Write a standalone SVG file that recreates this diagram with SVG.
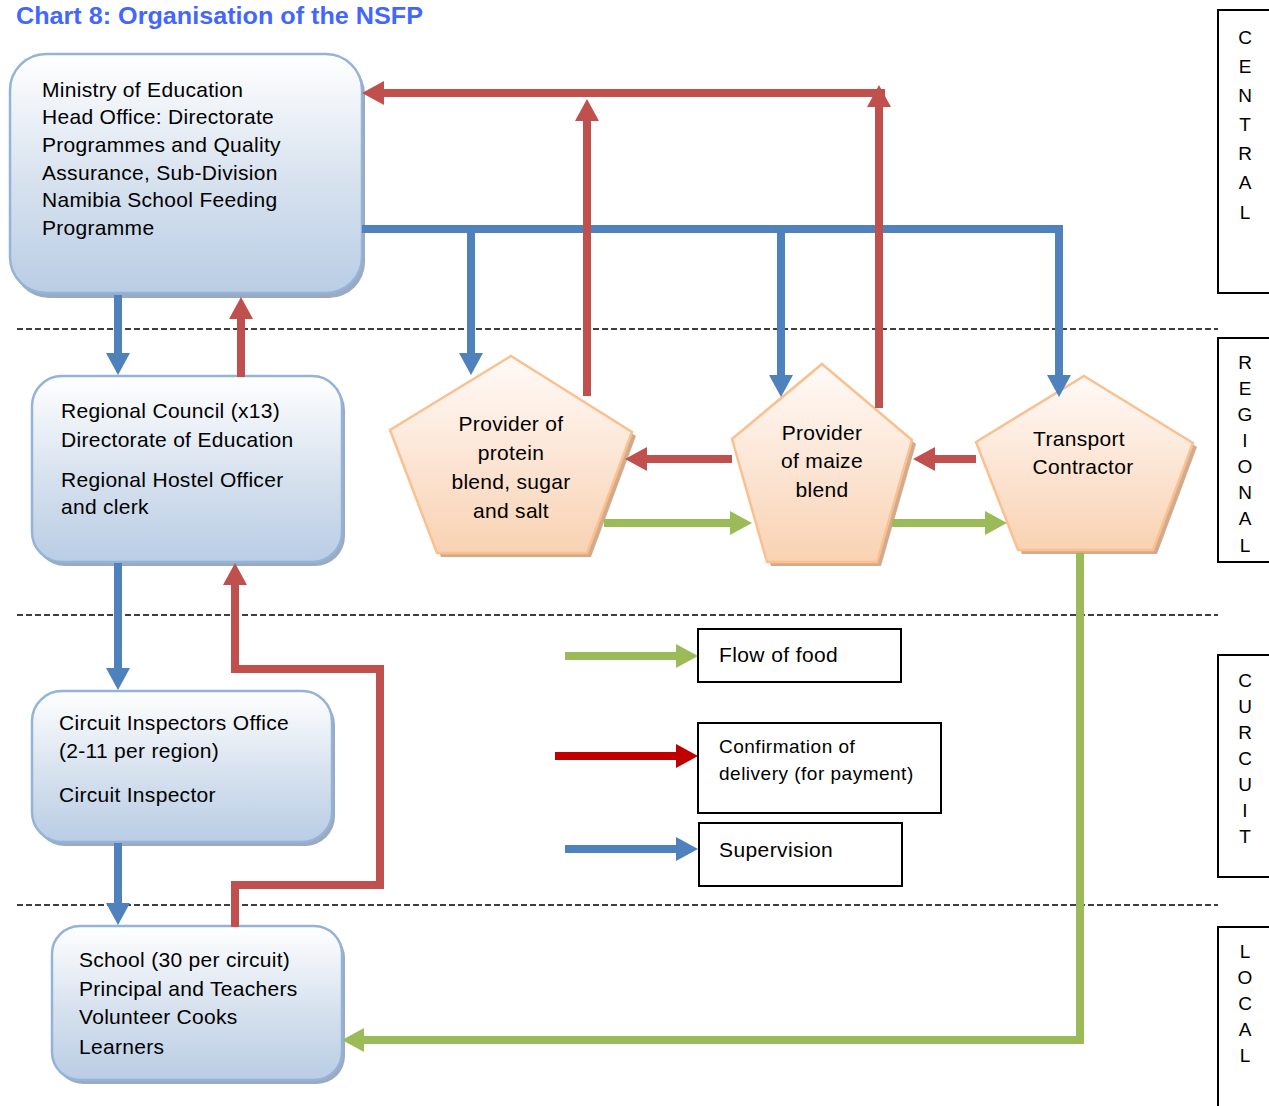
<svg xmlns="http://www.w3.org/2000/svg" width="1269" height="1106" viewBox="0 0 1269 1106">
<defs>
<linearGradient id="gBox" x1="0" y1="0" x2="0" y2="1">
<stop offset="0" stop-color="#FFFFFF"/>
<stop offset="0.55" stop-color="#D6E1EE"/>
<stop offset="1" stop-color="#B9CDE5"/>
</linearGradient>
<linearGradient id="gPent" x1="0" y1="0" x2="0" y2="1">
<stop offset="0" stop-color="#FFFAF7"/>
<stop offset="0.5" stop-color="#FCE6D6"/>
<stop offset="1" stop-color="#F9D2B2"/>
</linearGradient>
<marker id="mB" markerUnits="userSpaceOnUse" markerWidth="24" markerHeight="26" refX="0" refY="12" orient="auto" overflow="visible"><path d="M0,0 L22,12 L0,24 z" fill="#4F81BD"/></marker>
<marker id="mR" markerUnits="userSpaceOnUse" markerWidth="24" markerHeight="26" refX="0" refY="12" orient="auto" overflow="visible"><path d="M0,0 L22,12 L0,24 z" fill="#C0504D"/></marker>
<marker id="mG" markerUnits="userSpaceOnUse" markerWidth="24" markerHeight="26" refX="0" refY="12" orient="auto" overflow="visible"><path d="M0,0 L22,12 L0,24 z" fill="#9BBB59"/></marker>
<marker id="mDR" markerUnits="userSpaceOnUse" markerWidth="24" markerHeight="26" refX="0" refY="12" orient="auto" overflow="visible"><path d="M0,0 L22,12 L0,24 z" fill="#C00000"/></marker>
</defs>
<style>
text{font-family:"Liberation Sans",Arial,sans-serif;fill:#000;}
.t{font-size:21px;letter-spacing:0.3px;}
.pt{font-size:21px;letter-spacing:0.3px;text-anchor:middle;}
.lg{font-size:21px;letter-spacing:0.4px;}
.lg2{font-size:19px;letter-spacing:0.5px;}
.side{font-size:19px;text-anchor:middle;}
.box{fill:url(#gBox);stroke:#95B3D7;stroke-width:2.5;}
.bsh{fill:#9AAAC2;}
.pent{fill:url(#gPent);stroke:#FAC090;stroke-width:2.5;}
.psh{fill:#D4AA8A;}
.dash{stroke:#000;stroke-width:1.5;stroke-dasharray:6 3;fill:none;}
.frame{fill:none;stroke:#000;stroke-width:2;}
.cb{fill:none;stroke:#4F81BD;stroke-width:8;marker-end:url(#mB);}
.cr{fill:none;stroke:#C0504D;stroke-width:8;marker-end:url(#mR);}
.cg{fill:none;stroke:#9BBB59;stroke-width:8;marker-end:url(#mG);}
.cdr{fill:none;stroke:#C00000;stroke-width:8;marker-end:url(#mDR);}
.lbox{fill:#fff;stroke:#000;stroke-width:2;}
</style>

<text x="16" y="24" style="font-size:24px;font-weight:bold;fill:#4366FF" textLength="407" lengthAdjust="spacingAndGlyphs">Chart 8: Organisation of the NSFP</text>

<g id="dividers">
<line class="dash" x1="17" y1="329" x2="1218" y2="329"/>
<line class="dash" x1="17" y1="615" x2="1218" y2="615"/>
<line class="dash" x1="17" y1="905" x2="1218" y2="905"/>
</g>

<g id="level-central">
<rect class="frame" x="1218" y="10" width="60" height="283"/>
<text class="side" x="1245" y="44">C</text>
<text class="side" x="1245" y="73">E</text>
<text class="side" x="1245" y="102">N</text>
<text class="side" x="1245" y="131">T</text>
<text class="side" x="1245" y="160">R</text>
<text class="side" x="1245" y="189">A</text>
<text class="side" x="1245" y="219">L</text>
</g>
<g id="level-regional">
<rect class="frame" x="1218" y="338" width="60" height="224"/>
<text class="side" x="1245" y="369">R</text>
<text class="side" x="1245" y="395">E</text>
<text class="side" x="1245" y="421">G</text>
<text class="side" x="1245" y="447">I</text>
<text class="side" x="1245" y="473">O</text>
<text class="side" x="1245" y="499">N</text>
<text class="side" x="1245" y="525">A</text>
<text class="side" x="1245" y="552">L</text>
</g>
<g id="level-circuit">
<rect class="frame" x="1218" y="655" width="60" height="222"/>
<text class="side" x="1245" y="687">C</text>
<text class="side" x="1245" y="713">U</text>
<text class="side" x="1245" y="739">R</text>
<text class="side" x="1245" y="765">C</text>
<text class="side" x="1245" y="791">U</text>
<text class="side" x="1245" y="817">I</text>
<text class="side" x="1245" y="843">T</text>
</g>
<g id="level-local">
<rect class="frame" x="1218" y="927" width="60" height="200"/>
<text class="side" x="1245" y="958">L</text>
<text class="side" x="1245" y="984">O</text>
<text class="side" x="1245" y="1010">C</text>
<text class="side" x="1245" y="1036">A</text>
<text class="side" x="1245" y="1062">L</text>
</g>

<g id="ministry">
<rect class="bsh" x="13" y="58" width="352" height="240" rx="36"/>
<rect class="box" x="10" y="54" width="352" height="239" rx="36"/>
<text class="t" x="42" y="97">Ministry of Education</text>
<text class="t" x="42" y="124">Head Office: Directorate</text>
<text class="t" x="42" y="152">Programmes and Quality</text>
<text class="t" x="42" y="180">Assurance, Sub-Division</text>
<text class="t" x="42" y="207">Namibia School Feeding</text>
<text class="t" x="42" y="235">Programme</text>
</g>

<g id="regional-council">
<rect class="bsh" x="35" y="380" width="310" height="186" rx="30"/>
<rect class="box" x="32" y="376" width="310" height="186" rx="30"/>
<text class="t" x="61" y="418">Regional Council (x13)</text>
<text class="t" x="61" y="447">Directorate of Education</text>
<text class="t" x="61" y="487">Regional Hostel Officer</text>
<text class="t" x="61" y="514">and clerk</text>
</g>

<g id="circuit-office">
<rect class="bsh" x="35" y="695" width="300" height="151" rx="30"/>
<rect class="box" x="32" y="691" width="300" height="151" rx="30"/>
<text class="t" x="59" y="730">Circuit Inspectors Office</text>
<text class="t" x="59" y="758">(2-11 per region)</text>
<text class="t" x="59" y="802">Circuit Inspector</text>
</g>

<g id="school">
<rect class="bsh" x="55" y="930" width="290" height="154" rx="28"/>
<rect class="box" x="52" y="926" width="290" height="154" rx="28"/>
<text class="t" x="79" y="967">School (30 per circuit)</text>
<text class="t" x="79" y="996">Principal and Teachers</text>
<text class="t" x="79" y="1024">Volunteer Cooks</text>
<text class="t" x="79" y="1054">Learners</text>
</g>

<g id="provider-protein">
<polygon class="psh" points="515,360 636,436 591,557 441,557 394,434"/>
<polygon class="pent" points="511,356 632,432 587,553 437,553 390,430"/>
<text class="pt" x="511" y="431">Provider of</text>
<text class="pt" x="511" y="460">protein</text>
<text class="pt" x="511" y="489">blend, sugar</text>
<text class="pt" x="511" y="518">and salt</text>
</g>

<g id="provider-maize">
<polygon class="psh" points="826,368 916,444 881,566 771,566 736,443"/>
<polygon class="pent" points="822,364 912,440 877,562 767,562 732,439"/>
<text class="pt" x="822" y="440">Provider</text>
<text class="pt" x="822" y="468">of maize</text>
<text class="pt" x="822" y="497">blend</text>
</g>

<g id="transport">
<polygon class="psh" points="1088,380 1197,447 1157,554 1022,554 980,446"/>
<polygon class="pent" points="1084,376 1193,443 1153,550 1018,550 976,442"/>
<text class="pt" x="1079" y="446">Transport</text>
<text class="pt" x="1083" y="474">Contractor</text>
</g>

<g id="connectors">
<path class="cb" d="M362,229 H1059 V375"/>
<path class="cb" d="M471,229 V353"/>
<path class="cb" d="M781,229 V375"/>
<path class="cb" d="M118,295 V353"/>
<path class="cb" d="M118,563 V668"/>
<path class="cb" d="M118,843 V903"/>
<path class="cr" d="M885,93 H384"/>
<path class="cr" d="M587,396 V121"/>
<path class="cr" d="M879,408 V107"/>
<path class="cr" d="M241,377 V319"/>
<path class="cr" d="M235,927 V885 H380 V669 H235 V585"/>
<path class="cr" d="M732,459 H647"/>
<path class="cr" d="M976,459 H935"/>
<path class="cg" d="M604,523 H730"/>
<path class="cg" d="M892,523 H985"/>
<path class="cg" d="M1080,553 V1040 H364"/>
</g>

<g id="legend-food">
<path class="cg" d="M565,656 H676"/>
<rect class="lbox" x="698" y="629" width="203" height="53"/>
<text class="lg" x="719" y="662">Flow of food</text>
</g>
<g id="legend-confirmation">
<path class="cdr" d="M555,756 H676"/>
<rect class="lbox" x="698" y="723" width="243" height="90"/>
<text class="lg2" x="719" y="753">Confirmation of</text>
<text class="lg2" x="719" y="780">delivery (for payment)</text>
</g>
<g id="legend-supervision">
<path class="cb" d="M565,849 H676"/>
<rect class="lbox" x="699" y="823" width="203" height="63"/>
<text class="lg" x="719" y="857">Supervision</text>
</g>
</svg>
